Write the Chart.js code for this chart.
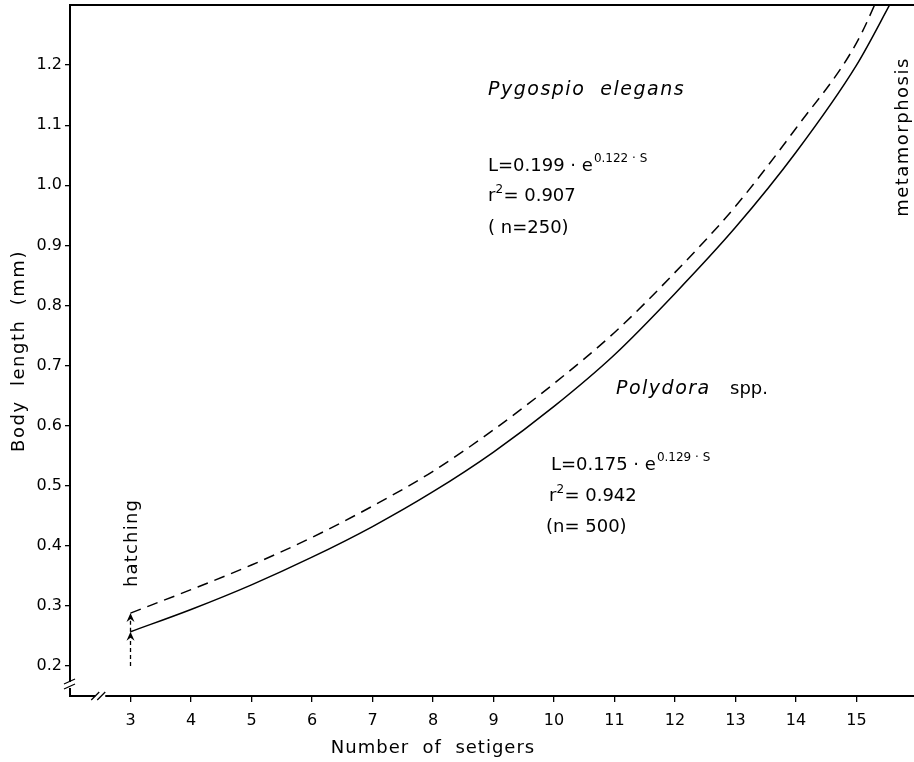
<!DOCTYPE html>
<html>
<head>
<meta charset="utf-8">
<script src="https://cdn.jsdelivr.net/npm/chart.js@4"></script>
<style>
  html, body { margin: 0; padding: 0; background: #fff; }
  #wrap { width: 914px; height: 762px; position: relative; }
</style>
</head>
<body>
<div id="wrap"><canvas id="growth"></canvas></div>
<script>
// body length vs number of setigers
var setigers = [3, 4, 5, 6, 7, 8, 9, 10, 11, 12, 13, 14, 15, 15.6];
var pygospio = [0.288, 0.327, 0.368, 0.414, 0.466, 0.524, 0.593, 0.670, 0.755, 0.855, 0.965, 1.095, 1.237, 1.37];
var polydora = [0.257, 0.294, 0.335, 0.381, 0.432, 0.490, 0.556, 0.632, 0.718, 0.820, 0.930, 1.055, 1.200, 1.31];
var xTicks = [3, 4, 5, 6, 7, 8, 9, 10, 11, 12, 13, 14, 15];
var yTicks = [0.2, 0.3, 0.4, 0.5, 0.6, 0.7, 0.8, 0.9, 1.0, 1.1, 1.2];
var hatchAt = 3;

var FONT = "'DejaVu Sans', sans-serif";

function points(xs, ys) {
	return xs.map(function(x, i) { return { x : x, y : ys[i] }; });
}

var extras = {
	id : "extras",
	afterDraw : function(chart) {
		var c = chart.ctx, a = chart.chartArea;
		var xs = chart.scales.x, ys = chart.scales.y;
		c.save();
		c.strokeStyle = "#000";
		c.fillStyle = "#000";

		// top frame line
		c.lineWidth = 2;
		c.beginPath(); c.moveTo(a.left, a.top); c.lineTo(a.right, a.top); c.stroke();

		// axis breaks
		var by = a.bottom - 11;
		c.fillStyle = "#fff";
		c.fillRect(a.left - 3, by - 3, 6, 6);
		var bx = xs.getPixelForValue(2.5);
		c.fillRect(bx - 5, a.bottom - 3, 10, 6);
		c.fillStyle = "#000";
		c.lineWidth = 1.3;
		c.beginPath();
		c.moveTo(a.left - 6, by - 1); c.lineTo(a.left + 5, by - 6);
		c.moveTo(a.left - 6, by + 4); c.lineTo(a.left + 5, by - 1);
		c.moveTo(bx - 9, a.bottom + 4); c.lineTo(bx - 1, a.bottom - 4);
		c.moveTo(bx - 3, a.bottom + 4); c.lineTo(bx + 5, a.bottom - 4);
		c.stroke();

		// hatching arrows
		var hx = xs.getPixelForValue(hatchAt);
		var y0 = ys.getPixelForValue(0.2);
		var y1 = ys.getPixelForValue(polydora[0]);
		var y2 = ys.getPixelForValue(pygospio[0]);
		c.lineWidth = 1.3;
		c.setLineDash([4, 3]);
		c.beginPath(); c.moveTo(hx, y0); c.lineTo(hx, y1 + 6);
		c.moveTo(hx, y1); c.lineTo(hx, y2 + 6); c.stroke();
		c.setLineDash([]);
		[y1, y2].forEach(function(ty) {
			c.beginPath();
			c.moveTo(hx, ty); c.lineTo(hx - 4, ty + 9); c.lineTo(hx, ty + 6); c.lineTo(hx + 4, ty + 9);
			c.closePath(); c.fill();
		});

		// axis titles and rotated labels
		c.textAlign = "center"; c.textBaseline = "middle";
		c.font = "18px " + FONT;
		c.letterSpacing = "1px";
		c.fillText("Number  of  setigers", 433, 748);
		c.letterSpacing = "1.5px";
		c.save(); c.translate(19, 351); c.rotate(-Math.PI / 2); c.fillText("Body  length  (mm)", 0, 0); c.restore();
		c.letterSpacing = "1.2px";
		c.save(); c.translate(hx + 2, 543); c.rotate(-Math.PI / 2); c.fillText("hatching", 0, 0); c.restore();
		c.letterSpacing = "1.5px";
		c.save(); c.translate(903, 137); c.rotate(-Math.PI / 2); c.fillText("metamorphosis", 0, 0); c.restore();

		// equations
		c.letterSpacing = "0px";
		c.textAlign = "left"; c.textBaseline = "alphabetic";
		function eq(x, y, a0, b0) {
			c.font = "18px " + FONT;
			var s = "L=" + a0 + " \u00b7 e";
			c.fillText(s, x, y);
			var w = c.measureText(s).width;
			c.font = "12px " + FONT;
			c.fillText(b0 + " \u00b7 S", x + w + 1, y - 9);
		}
		function r2(x, y, v) {
			c.font = "18px " + FONT;
			c.fillText("r", x, y);
			var w = c.measureText("r").width;
			c.font = "12px " + FONT;
			c.fillText("2", x + w, y - 8);
			c.font = "18px " + FONT;
			c.fillText("= " + v, x + w + 8, y);
		}
		c.font = "italic 19px " + FONT;
		c.letterSpacing = "1.5px";
		c.fillText("Pygospio  elegans", 488, 95);
		c.letterSpacing = "0px";
		eq(488, 171, "0.199", "0.122");
		r2(488, 201, "0.907");
		c.font = "18px " + FONT;
		c.fillText("( n=250)", 488, 233);

		c.font = "italic 19px " + FONT;
		c.letterSpacing = "1.5px";
		c.fillText("Polydora", 616, 394);
		c.letterSpacing = "0px";
		c.font = "18px " + FONT;
		c.fillText("spp.", 730, 394);
		eq(551, 470, "0.175", "0.129");
		r2(549, 501, "0.942");
		c.font = "18px " + FONT;
		c.fillText("(n= 500)", 546, 532);
		c.restore();
	}
};

var ctx = document.getElementById("growth");

var chart = new Chart(ctx, {
	type : "line",
	data : {
		datasets : [
			{
				label : "Pygospio elegans",
				data : points(setigers, pygospio),
				borderColor : "#000",
				borderWidth : 1.5,
				borderDash : [11, 7],
				pointRadius : 0,
				fill : false,
				cubicInterpolationMode : "monotone"
			},
			{
				label : "Polydora spp.",
				data : points(setigers, polydora),
				borderColor : "#000",
				borderWidth : 1.5,
				pointRadius : 0,
				fill : false,
				cubicInterpolationMode : "monotone"
			}
		]
	},
	options : {
		responsive : true,
		maintainAspectRatio : false,
		animation : false,
		layout : { padding : { top : 5, right : 0, left : 0, bottom : 0 } },
		plugins : { legend : { display : false }, tooltip : { enabled : false } },
		scales : {
			x : {
				type : "linear",
				min : 2,
				max : 15.95,
				afterBuildTicks : function(s) { s.ticks = xTicks.map(function(v) { return { value : v }; }); },
				afterFit : function(s) { s.height = 66; s.paddingLeft = 0; s.paddingRight = 0; },
				grid : { drawOnChartArea : false, drawTicks : true, tickLength : 6, color : "#000", lineWidth : 1.3 },
				border : { display : true, color : "#000", width : 2 },
				ticks : { color : "#000", font : { family : FONT, size : 16 }, padding : 9, maxRotation : 0 },
				title : { display : false }
			},
			y : {
				min : 0.15,
				max : 1.3,
				afterBuildTicks : function(s) { s.ticks = yTicks.map(function(v) { return { value : v }; }); },
				afterFit : function(s) { s.width = 70; s.paddingTop = 0; s.paddingBottom = 0; },
				grid : { drawOnChartArea : false, drawTicks : true, tickLength : 5, color : "#000", lineWidth : 1.3 },
				border : { display : true, color : "#000", width : 2 },
				ticks : { color : "#000", font : { family : FONT, size : 16 }, padding : 3, callback : function(v) { return v.toFixed(1); } },
				title : { display : false }
			}
		}
	},
	plugins : [extras]
});
</script>
</body>
</html>
